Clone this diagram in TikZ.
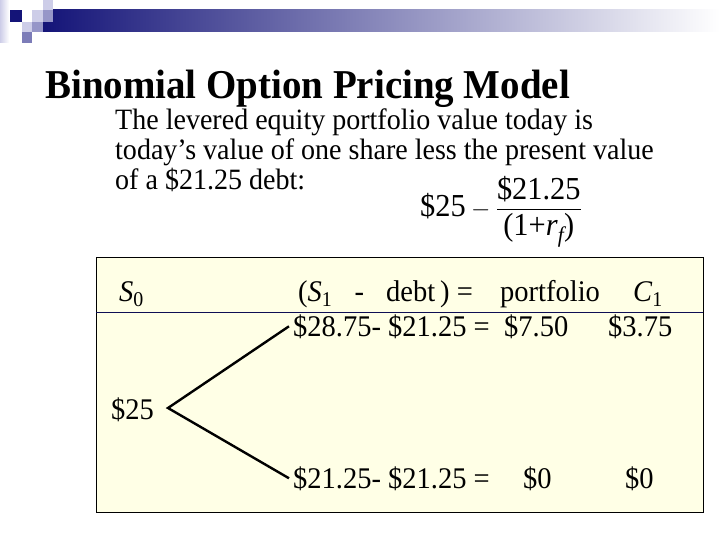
\documentclass[tikz,border=0pt]{standalone}
\usepackage{amsmath}
\usepackage{fontspec}
\setmainfont[FakeStretch=0.95]{Liberation Serif}

\definecolor{navy}{RGB}{20,20,120}
\definecolor{lavmid}{RGB}{150,150,200}
\definecolor{lavlight}{RGB}{205,205,232}
\definecolor{boxfill}{RGB}{255,255,230}

\begin{document}
\begin{tikzpicture}[x=1pt,y=-1pt,
  body/.style={anchor=base west, inner sep=0pt, font=\fontsize{29.5}{32}\selectfont},
  cell/.style={anchor=base west, inner sep=0pt, font=\fontsize{30}{32}\selectfont},
  branch/.style={line width=2.4pt}]
\useasboundingbox (0,0) rectangle (720,540);

% header bar and tiles
\shade[left color=lavlight, right color=white] (0,0) rectangle (9,43);
\shade[left color=navy, right color=white] (43,10) rectangle (720,32);
\fill[navy] (10,10) rectangle (22,22);
\fill[lavlight] (32,10) rectangle (43,22);
\fill[lavlight] (43,0) rectangle (53,10);
\fill[lavmid] (43,10) rectangle (53,22);
\fill[lavlight] (22,22) rectangle (32,32);
\fill[lavmid] (32,22) rectangle (43,32);
\fill[lavmid!80!navy] (22,32) rectangle (32,43);

% title and text
\node[anchor=base west, inner sep=0pt, font=\bfseries\fontsize{41}{43}\selectfont] (title) at (45,99) {Binomial Option Pricing Model};
\node[body] (lineA) at (115,130) {The levered equity portfolio value today is};
\node[body] (lineB) at (115,160) {today’s value of one share less the present value};
\node[body] (lineC) at (115,190) {of a \$21.25 debt:};
\node[body, font=\fontsize{32}{34}\selectfont] (pv) at (420,216) {\$25\,$-$\,$\dfrac{\text{\$21.25}}{\text{(1+\textit{r}$_{\textit{f}}$)}}$};

% tree box
\draw[fill=boxfill] (96,257) rectangle (703,512);
\draw[navy!70!black] (96,312) -- (703,312);

\node[cell] (sZero) at (119,301) {\textit{S}$_{\text{0}}$};
\node[cell] (hdrDebt) at (298,301) {(\textit{S}$_{\text{1}}$\enspace\ -\enspace\ debt\,) =};
\node[cell] (hdrPort) at (500,301) {portfolio};
\node[cell] (hdrCall) at (633,301) {\textit{C}$_{\text{1}}$};

\node[cell] (up) at (293,336) {\$28.75- \$21.25 =};
\node[cell] (upPort) at (504,336) {\$7.50};
\node[cell] (upCall) at (608,336) {\$3.75};

\node[cell] (root) at (111,419) {\$25};
\coordinate (apex) at (168,408);

\node[cell] (down) at (293,488) {\$21.25- \$21.25 =};
\node[cell] (downPort) at (523,488) {\$0};
\node[cell] (downCall) at (625,488) {\$0};

\draw[branch] ([xshift=-4pt]up.west) -- (apex) -- ([xshift=-4pt]down.west);
\end{tikzpicture}
\end{document}
